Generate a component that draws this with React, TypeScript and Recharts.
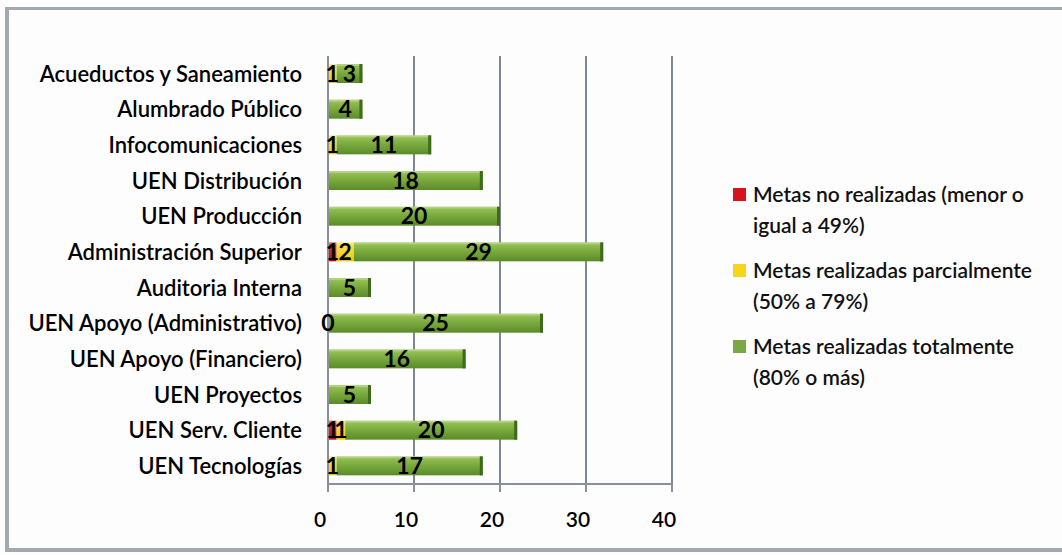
import React from 'react';
import { BarChart, Bar, XAxis, YAxis, CartesianGrid, LabelList } from 'recharts';

const categories = [
  'Acueductos y Saneamiento',
  'Alumbrado Público',
  'Infocomunicaciones',
  'UEN Distribución',
  'UEN Producción',
  'Administración Superior',
  'Auditoria Interna',
  'UEN Apoyo (Administrativo)',
  'UEN Apoyo (Financiero)',
  'UEN Proyectos',
  'UEN Serv. Cliente',
  'UEN Tecnologías',
];

// null = no value shown in the original
const noRealizadas = [null, null, null, null, null, 1, null, null, null, null, 1, null];
const parciales = [1, null, 1, null, null, 2, null, 0, null, null, 1, 1];
const totales = [3, 4, 11, 18, 20, 29, 5, 25, 16, 5, 20, 17];

const xTicks = [0, 10, 20, 30, 40];

const series = [
  { key: 'red', name: 'Metas no realizadas (menor o\nigual a 49%)', color: '#d7141c', fill: 'url(#gRed)' },
  { key: 'yellow', name: 'Metas realizadas parcialmente\n(50% a 79%)', color: '#f7d51d', fill: 'url(#gYellow)' },
  { key: 'green', name: 'Metas realizadas totalmente\n(80% o más)', color: '#7aa844', fill: 'url(#gGreen)' },
];

const data = categories.map((name, i) => ({
  name,
  red: noRealizadas[i],
  yellow: parciales[i],
  green: totales[i],
}));

const FONT = 'Lato, "Open Sans", sans-serif';

const Bar3D = (props: any) => {
  const { x, y, width, height, fill, edge } = props;
  if (!width || width <= 0) return null;
  return (
    <g>
      <rect x={x} y={y} width={width} height={height} fill={fill} />
      <rect x={x} y={y} width={width} height={2} fill="#ffffff" fillOpacity={0.25} />
      {edge && <rect x={x + width - 3} y={y} width={3} height={height} fill={edge} />}
    </g>
  );
};

const LegendBox = () => (
  <div
    style={{
      position: 'absolute',
      left: 733,
      top: 178,
      width: 329,
      fontFamily: FONT,
      fontSize: 21,
      fontWeight: 600,
      color: '#111',
      lineHeight: '31px',
      whiteSpace: 'nowrap',
    }}
  >
    {series.map((s) => (
      <div key={s.key} style={{ position: 'relative', paddingLeft: 20, marginBottom: 14 }}>
        <span
          style={{
            position: 'absolute',
            left: 0,
            top: 10,
            width: 13,
            height: 13,
            background: s.color,
          }}
        />
        {s.name.split('\n').map((line, i) => (
          <div key={i}>{line}</div>
        ))}
      </div>
    ))}
  </div>
);

const labelStyle = { fill: '#000', fontSize: 23, fontWeight: 700, fontFamily: FONT };

export default function App() {
  return (
    <div
      style={{
        position: 'absolute',
        left: 0,
        top: 0,
        width: 1062,
        height: 555,
        background: '#fdfdfd',
        overflow: 'hidden',
      }}
    >
      <div
        style={{
          position: 'absolute',
          left: 5,
          top: 7,
          width: 1080,
          height: 538,
          borderLeft: '4px solid #a4a9b0',
          borderTop: '3px solid #a4a9b0',
          borderBottom: '4px solid #a4a9b0',
        }}
      />
      <div style={{ position: 'absolute', left: 0, top: 0 }}>
        <BarChart
          width={1062}
          height={555}
          data={data}
          layout="vertical"
          margin={{ top: 56, right: 390, left: 0, bottom: 31 }}
          barSize={19}
        >
          <defs>
            <linearGradient id="gGreen" x1="0" y1="0" x2="0" y2="1">
              <stop offset="0%" stopColor="#9cc65a" />
              <stop offset="50%" stopColor="#78a83c" />
              <stop offset="100%" stopColor="#5b8a2a" />
            </linearGradient>
            <linearGradient id="gYellow" x1="0" y1="0" x2="0" y2="1">
              <stop offset="0%" stopColor="#fbe85a" />
              <stop offset="100%" stopColor="#e8c80c" />
            </linearGradient>
            <linearGradient id="gRed" x1="0" y1="0" x2="0" y2="1">
              <stop offset="0%" stopColor="#e8353a" />
              <stop offset="100%" stopColor="#b50d14" />
            </linearGradient>
          </defs>
          <CartesianGrid horizontal={false} stroke="#7f8794" strokeWidth={2} />
          <XAxis
            type="number"
            domain={[0, 40]}
            ticks={xTicks}
            interval={0}
            stroke="#8a9099"
            strokeWidth={2}
            tickSize={8}
            tickMargin={20}
            height={40}
            tick={{ fill: '#000', fontSize: 21, fontFamily: FONT, fontWeight: 600, dx: -8 }}
          />
          <YAxis
            type="category"
            dataKey="name"
            width={328}
            stroke="#8a9099"
            strokeWidth={2}
            tickLine={false}
            tickSize={6}
            tickMargin={20}
            interval={0}
            tick={{ fill: '#000', fontSize: 22, fontFamily: FONT, fontWeight: 600 }}
          />
          <Bar
            dataKey="red"
            stackId="a"
            name={series[0].name}
            fill={series[0].fill}
            isAnimationActive={false}
            shape={(p: any) => <Bar3D {...p} fill={series[0].fill} />}
          >
            <LabelList dataKey="red" position="center" style={labelStyle} />
          </Bar>
          <Bar
            dataKey="yellow"
            stackId="a"
            name={series[1].name}
            fill={series[1].fill}
            isAnimationActive={false}
            shape={(p: any) => <Bar3D {...p} fill={series[1].fill} />}
          >
            <LabelList dataKey="yellow" position="center" style={labelStyle} />
          </Bar>
          <Bar
            dataKey="green"
            stackId="a"
            name={series[2].name}
            fill={series[2].fill}
            isAnimationActive={false}
            shape={(p: any) => <Bar3D {...p} fill={series[2].fill} edge="#3e6a1c" />}
          >
            <LabelList dataKey="green" position="center" style={labelStyle} />
          </Bar>
        </BarChart>
      </div>
      <LegendBox />
    </div>
  );
}
